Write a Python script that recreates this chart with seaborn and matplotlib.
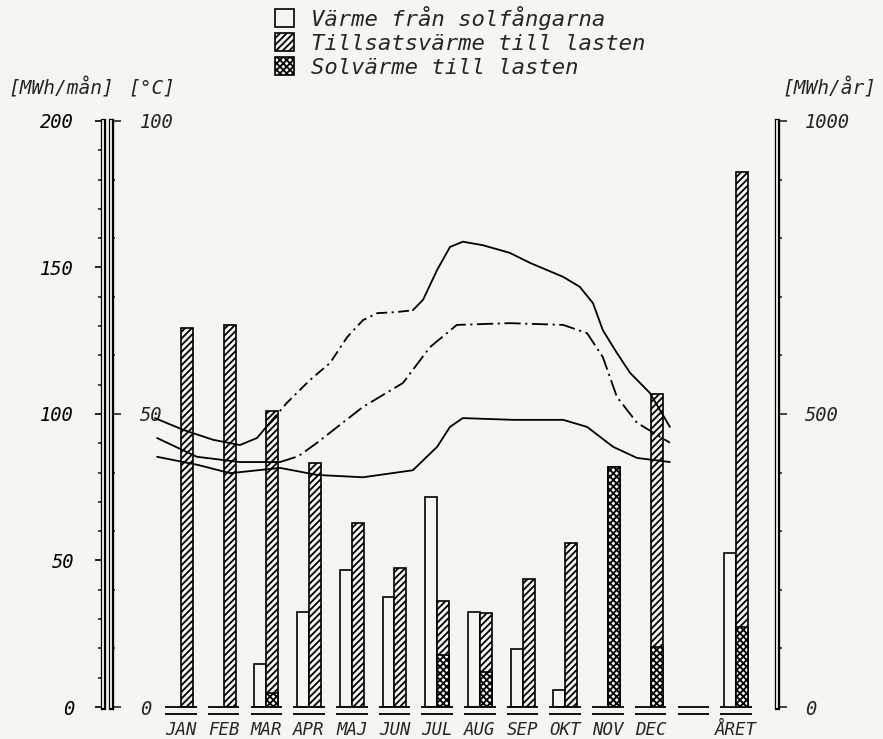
import numpy as np
import pandas as pd
import matplotlib
matplotlib.use("Agg")
import matplotlib.pyplot as plt
import matplotlib.patheffects as pe
import matplotlib.transforms as mtransforms
from matplotlib.patches import Patch
from matplotlib.ticker import MultipleLocator
from matplotlib.font_manager import FontProperties
import seaborn as sns

# ---------------- data ----------------
MONTHS = ["JAN", "FEB", "MAR", "APR", "MAJ", "JUN", "JUL", "AUG", "SEP", "OKT", "NOV", "DEC"]
CATS = MONTHS + [" ", "ÅRET"]

S_WHITE = "Värme från solfångarna"
S_LOAD = "Tillsatsvärme till lasten"
S_SOLAR = "Solvärme till lasten"

# MWh/mån
VARME_SOLF = [0, 0, 14.7, 32.5, 46.8, 37.6, 71.8, 32.5, 19.7, 5.8, 0, 0]
LAST_TOTAL = [129.4, 130.4, 101.1, 83.4, 62.7, 47.3, 36.3, 32.2, 43.6, 55.9, 81.8, 106.8]
SOLVARME_LAST = [0, 0, 4.7, 0, 0, 0, 17.7, 12.1, 0, 0, 81.8, 20.6]

# MWh/år
ARET_SOLF = 262
ARET_LAST = 913
ARET_SOLVARME = 137

# temperature curves [°C] (x in month positions, JAN = 0)
A_X = [-0.61, 0.05, 0.75, 1.38, 1.78, 2.08, 2.48, 3.02, 3.49, 3.89, 4.26, 4.59, 5.06, 5.43,
       5.67, 6.00, 6.30, 6.60, 7.07, 7.70, 8.17, 8.95, 9.34, 9.65, 9.88, 10.21, 10.52, 10.98, 11.45]
A_T = [49.3, 47.3, 45.6, 44.7, 45.9, 48.5, 51.9, 55.8, 58.7, 63.1, 66.0, 67.2, 67.4, 67.7,
       69.5, 74.6, 78.5, 79.4, 78.8, 77.5, 75.8, 73.4, 71.7, 68.9, 64.3, 60.4, 57.0, 53.6, 47.8]
B_X = [-0.56, 0.37, 1.38, 2.32, 2.75, 3.19, 4.26, 5.20, 5.83, 6.46, 7.70, 8.95, 9.51, 9.88,
       10.21, 10.68, 11.45]
B_T = [45.9, 42.7, 41.8, 41.8, 42.8, 45.1, 51.2, 55.3, 61.4, 65.2, 65.5, 65.2, 63.8, 59.7,
       52.9, 48.5, 45.1]
C_X = [-0.56, 0.40, 1.15, 2.32, 3.19, 4.26, 5.43, 6.00, 6.30, 6.60, 7.78, 8.95, 9.51, 10.12,
       10.68, 11.45]
C_T = [42.7, 41.3, 39.9, 40.8, 39.6, 39.2, 40.4, 44.4, 47.8, 49.3, 49.0, 49.0, 47.8, 44.4,
       42.5, 41.8]

# ---------------- style ----------------
sns.set_style("white")
plt.rcParams["font.family"] = ["DejaVu Sans Mono", "DejaVu Sans"]
plt.rcParams["font.style"] = "oblique"
plt.rcParams["hatch.linewidth"] = 1.3
BG = "#f5f5f2"
HATCH_LOAD = "/////"
HATCH_SOLAR = "xxxxx"
FONT_UNIT = FontProperties(family="DejaVu Sans Mono", style="oblique", size=14)
FONT_LEG = FontProperties(family="DejaVu Sans Mono", style="oblique", size=16)

fig = plt.figure(figsize=(8.83, 7.39), dpi=100, facecolor=BG)
ax = fig.add_axes([0.1161, 0.0433, 0.7644, 0.7930])
ax.set_facecolor(BG)
ax2 = ax.twinx()
ax3 = ax.twinx()

HUE_ORDER = [S_WHITE, S_LOAD]
PAL = {S_WHITE: BG, S_LOAD: BG}


def bars(axis, kat, vals, serie, hatch):
    d = pd.DataFrame({"kat": kat, "v": vals, "serie": serie})
    d = d[d["v"] > 0]
    sns.barplot(data=d, x="kat", y="v", hue="serie", hue_order=HUE_ORDER, order=CATS,
                palette=PAL, saturation=1, width=0.56, dodge=True, errorbar=None,
                legend=False, edgecolor="black", linewidth=1.2, hatch=hatch, ax=axis)


# monthly bars (MWh/mån)
bars(ax, MONTHS, VARME_SOLF, S_WHITE, None)
bars(ax, MONTHS, LAST_TOTAL, S_LOAD, HATCH_LOAD)
bars(ax, MONTHS, SOLVARME_LAST, S_LOAD, HATCH_SOLAR)
# annual bars (MWh/år)
bars(ax3, ["ÅRET"], [ARET_SOLF], S_WHITE, None)
bars(ax3, ["ÅRET"], [ARET_LAST], S_LOAD, HATCH_LOAD)
bars(ax3, ["ÅRET"], [ARET_SOLVARME], S_LOAD, HATCH_SOLAR)

# temperature curves
LW = 1.3


def curve(xs, ts, segments):
    for a, b, ls in segments:
        sns.lineplot(x=xs[a:b + 1], y=ts[a:b + 1], ax=ax2, color="black", linewidth=LW,
                     linestyle=ls, sort=False, estimator=None)


curve(A_X, A_T, [(0, 5, "-"), (5, 13, (0, (6, 2.5, 1.2, 2.5))), (13, len(A_X) - 1, "-")])
curve(B_X, B_T, [(0, 3, "-"), (3, len(B_X) - 1, (0, (9, 2.5, 1.2, 2.5)))])
curve(C_X, C_T, [(0, len(C_X) - 1, "-")])

# ---------------- axes ----------------
XMIN, XMAX = -1.838, 13.97
for a in (ax, ax2, ax3):
    a.set_xlabel("")
    a.set_ylabel("")
ax.set_xlim(XMIN, XMAX)
ax.set_ylim(0, 200)
ax2.set_ylim(0, 100)
ax3.set_ylim(0, 1000)

double = [pe.Stroke(linewidth=3.8, foreground="black"), pe.Stroke(linewidth=1.3, foreground=BG)]

for s in ("top", "right", "bottom"):
    ax.spines[s].set_visible(False)
ax.spines["left"].set_path_effects(double)

for s in ("top", "left", "bottom"):
    ax2.spines[s].set_visible(False)
ax2.spines["right"].set_position(("axes", 0.0119))
ax2.spines["right"].set_path_effects(double)

for s in ("top", "left", "bottom"):
    ax3.spines[s].set_visible(False)
ax3.spines["right"].set_path_effects(double)

# left outer axis MWh/mån
ax.yaxis.set_major_locator(MultipleLocator(50))
ax.yaxis.set_minor_locator(MultipleLocator(10))
ax.tick_params(axis="y", which="major", direction="out", length=6, width=1.2, pad=14.5,
               left=True, right=False, colors="black", labelsize=13.5)
ax.tick_params(axis="y", which="minor", direction="out", length=3.5, width=1.2, left=True)

# inner axis °C
ax2.yaxis.set_ticks_position("right")
ax2.yaxis.set_label_position("right")
ax2.yaxis.set_major_locator(MultipleLocator(50))
ax2.yaxis.set_minor_locator(MultipleLocator(10))
ax2.tick_params(axis="y", which="major", direction="out", length=7, width=1.2, pad=14,
                labelsize=13.5)
ax2.tick_params(axis="y", which="minor", direction="out", length=3, width=1.2)

# right axis MWh/år
ax3.yaxis.set_major_locator(MultipleLocator(500))
ax3.yaxis.set_minor_locator(MultipleLocator(100))
ax3.tick_params(axis="y", which="major", direction="out", length=7, width=1.2, pad=13,
                labelsize=13.5)
ax3.tick_params(axis="y", which="minor", direction="out", length=3.5, width=1.2)

# x axis (months)
pos = np.arange(len(CATS))
ax.set_xticks(pos)
ax.set_xticklabels(CATS)
ax.tick_params(axis="x", length=0, pad=10, labelsize=12.5)
ax.set_xlim(XMIN, XMAX)

# double underline below each category
ax.hlines([0] * len(pos), pos - 0.37, pos + 0.37, color="black", linewidth=1.3, clip_on=False)
low = mtransforms.offset_copy(ax.transData, fig=fig, x=0, y=-7, units="dots")
ax.hlines([0] * len(pos), pos - 0.37, pos + 0.37, color="black", linewidth=1.3,
          clip_on=False, transform=low)

# unit labels
fig.text(8 / 883, 1 - 88 / 739, "[MWh/mån]", fontproperties=FONT_UNIT, va="center", ha="left")
fig.text(128 / 883, 1 - 88 / 739, "[°C]", fontproperties=FONT_UNIT, va="center", ha="left")
fig.text(782 / 883, 1 - 88 / 739, "[MWh/år]", fontproperties=FONT_UNIT, va="center", ha="left")

# legend
handles = [
    Patch(facecolor=BG, edgecolor="black", linewidth=1.2, label=S_WHITE),
    Patch(facecolor=BG, edgecolor="black", linewidth=1.2, hatch=HATCH_LOAD, label=S_LOAD),
    Patch(facecolor=BG, edgecolor="black", linewidth=1.2, hatch=HATCH_SOLAR, label=S_SOLAR),
]
fig.legend(handles=handles, loc="upper left", bbox_to_anchor=(275 / 883, 1 - 6 / 739),
           frameon=False, prop=FONT_LEG, handlelength=0.85, handleheight=0.85,
           handletextpad=0.75, labelspacing=0.15, borderpad=0, borderaxespad=0)

fig.savefig("out.png", dpi=100, facecolor=BG)
